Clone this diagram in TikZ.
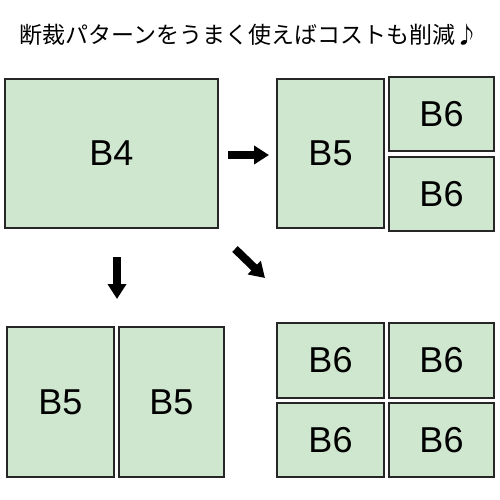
\documentclass[tikz,border=0pt]{standalone}
\usepackage{fontspec}
\setmainfont{Liberation Sans}
\newfontfamily\jpfont{Noto Sans CJK JP}
\usepackage{xcolor}
\usepackage{tikz}
\usetikzlibrary{arrows.meta,positioning}

\definecolor{paper}{HTML}{CFE6CF}

\tikzset{
  sheet/.style={draw=black!85, line width=1.5pt, fill=paper, inner sep=0pt,
    font=\fontsize{36}{36}\selectfont},
  cutarrow/.style={line width=8pt, -{Triangle[length=15pt,width=18pt]}},
}

\begin{document}
\begin{tikzpicture}[x=1pt, y=-1pt]
  \useasboundingbox (0,0) rectangle (500,500);

  % Title
  \node[font=\jpfont\fontsize{23}{23}\selectfont] (title) at (249,35) {断裁パターンをうまく使えばコストも削減♪};

  % Whole sheet
  \node[sheet, minimum width=213pt, minimum height=149pt] (b4) at (111.5,153.5) {B4};

  % B5 + 2 x B6
  \node[sheet, minimum width=107pt, minimum height=149pt] (b5a) at (330.5,153.5) {B5};
  \node[sheet, minimum width=105pt, minimum height=74pt] (b6a) at (441.5,114) {B6};
  \node[sheet, minimum width=105pt, minimum height=74pt] (b6b) at (441.5,194) {B6};

  % 2 x B5
  \node[sheet, minimum width=107pt, minimum height=150pt] (b5b) at (60.5,402) {B5};
  \node[sheet, minimum width=105pt, minimum height=150pt] (b5c) at (171.5,402) {B5};

  % 4 x B6
  \node[sheet, minimum width=107pt, minimum height=75pt] (b6c) at (330.5,360.5) {B6};
  \node[sheet, minimum width=105pt, minimum height=75pt] (b6d) at (441.5,360.5) {B6};
  \node[sheet, minimum width=107pt, minimum height=74pt] (b6e) at (330.5,440) {B6};
  \node[sheet, minimum width=105pt, minimum height=74pt] (b6f) at (441.5,440) {B6};

  % Arrows
  \coordinate (r0) at (228,155);
  \coordinate (r1) at (269,155);
  \coordinate (d0) at (117,257);
  \coordinate (d1) at (117,299);
  \coordinate (s0) at (235,249);
  \coordinate (s1) at (265,278);
  \draw[cutarrow] (r0) -- (r1);
  \draw[cutarrow] (d0) -- (d1);
  \draw[cutarrow] (s0) -- (s1);

\end{tikzpicture}
\end{document}
